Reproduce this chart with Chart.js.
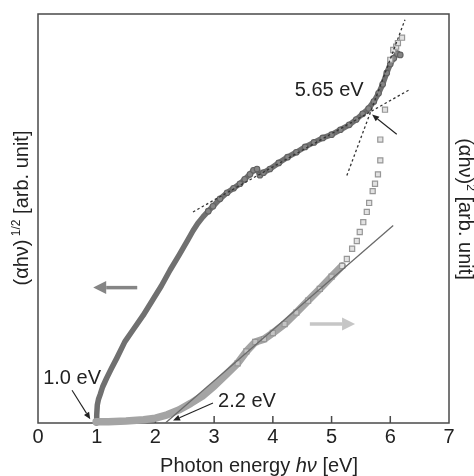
<!DOCTYPE html>
<html>
<head>
<meta charset="utf-8">
<script src="https://cdn.jsdelivr.net/npm/chart.js@4.4.1/dist/chart.umd.min.js"></script>
<style>
  html, body { margin: 0; padding: 0; background: #fff; }
  #wrap { width: 474px; height: 476px; position: relative; }
</style>
</head>
<body>
<div id="wrap"><canvas id="absChart"></canvas></div>
<script>
// (ahv)^1/2 curve, left axis (arbitrary units 0-100)
const darkX = [0.99, 1.00, 1.01, 1.03, 1.06, 1.10, 1.17, 1.25, 1.34, 1.48, 1.62, 1.79, 1.95, 2.10,
  2.25, 2.40, 2.55, 2.64, 2.72, 2.81, 2.90, 2.98, 3.10, 3.22, 3.33, 3.44, 3.52, 3.61, 3.67, 3.73,
  3.78, 3.84, 3.95, 4.10, 4.25, 4.40, 4.55, 4.70, 4.85, 5.00, 5.15, 5.30, 5.42, 5.53, 5.63, 5.72,
  5.80, 5.87, 5.94, 6.00, 6.06, 6.12, 6.17];
const darkY = [0.0, 2.0, 4.4, 5.8, 7.0, 8.8, 11.0, 13.3, 15.8, 19.9, 22.8, 26.3, 30.0, 33.5,
  37.4, 41.0, 44.7, 47.0, 48.8, 50.4, 51.8, 53.0, 54.8, 56.3, 57.4, 58.5, 59.6, 60.8, 61.8, 62.1,
  60.6, 61.2, 62.1, 63.6, 65.0, 66.2, 67.5, 68.6, 69.7, 70.5, 71.7, 72.9, 74.2, 75.6, 76.9, 78.6,
  80.6, 82.8, 85.6, 87.8, 89.2, 90.3, 90.0];

// (ahv)^2 curve, right axis (arbitrary units 0-100)
const lightX = [0.99, 1.20, 1.50, 1.80, 2.00, 2.20, 2.40, 2.60, 2.80, 3.00, 3.20, 3.40, 3.55, 3.70,
  3.85, 4.00, 4.20, 4.40, 4.60, 4.80, 5.00, 5.18, 5.26, 5.35, 5.43, 5.48, 5.54, 5.60, 5.64, 5.70,
  5.74, 5.79, 5.83, 5.83, 5.91, 6.00, 6.05, 6.10, 6.13, 6.20];
const lightY = [0.3, 0.3, 0.5, 0.8, 1.2, 2.0, 3.2, 4.8, 6.6, 9.0, 11.8, 14.6, 17.5, 19.8,
  20.5, 22.0, 24.2, 27.0, 29.9, 32.8, 35.8, 38.4, 40.1, 42.6, 44.5, 46.7, 49.1, 51.6, 53.8, 56.7,
  58.5, 60.8, 64.2, 69.3, 76.6, 88.8, 91.2, 92.0, 92.9, 94.2];

// extrapolation lines
const fitLowX = [2.64, 6.34];   // dotted, gentle slope
const fitLowY = [51.6, 81.6];
const fitHighX = [5.26, 6.25];  // dotted, steep
const fitHighY = [60.5, 98.6];
const fitGapX = [2.17, 6.05];   // solid, 2.2 eV onset
const fitGapY = [0.0, 48.3];

const xTicks = [0, 1, 2, 3, 4, 5, 6, 7];

const pts = (xs, ys) => xs.map((x, i) => ({ x, y: ys[i] }));

function arrow(ctx, x1, y1, x2, y2, color, width, headLen, headW) {
  const ang = Math.atan2(y2 - y1, x2 - x1);
  const bx = x2 - headLen * Math.cos(ang), by = y2 - headLen * Math.sin(ang);
  ctx.strokeStyle = color; ctx.fillStyle = color; ctx.lineWidth = width;
  ctx.beginPath(); ctx.moveTo(x1, y1); ctx.lineTo(bx, by); ctx.stroke();
  ctx.beginPath();
  ctx.moveTo(x2, y2);
  ctx.lineTo(bx + headW * Math.sin(ang), by - headW * Math.cos(ang));
  ctx.lineTo(bx - headW * Math.sin(ang), by + headW * Math.cos(ang));
  ctx.closePath(); ctx.fill();
}

// draw pieces of text one after another, centred on 0
function richText(ctx, parts) {
  let w = 0;
  parts.forEach(p => { ctx.font = p.font; p.w = ctx.measureText(p.t).width; w += p.w; });
  let cx = -w / 2;
  parts.forEach(p => { ctx.font = p.font; ctx.fillText(p.t, cx, p.dy || 0); cx += p.w; });
}

const FONT = '"Liberation Sans", Arial, sans-serif';

const extras = {
  id: 'extras',
  beforeDatasetsDraw(chart) {
    const { ctx, chartArea: a, scales: { x } } = chart;
    ctx.save();
    ctx.strokeStyle = '#4a4a4a';
    ctx.lineWidth = 1.5;
    ctx.strokeRect(a.left, a.top, a.right - a.left, a.bottom - a.top);
    ctx.beginPath();
    xTicks.slice(1, -1).forEach(t => {
      const px = x.getPixelForValue(t);
      ctx.moveTo(px, a.bottom); ctx.lineTo(px, a.bottom - 7);
    });
    ctx.stroke();
    ctx.restore();
  },
  afterDraw(chart) {
    const { ctx, scales: { x, y } } = chart;
    const px = v => x.getPixelForValue(v), py = v => y.getPixelForValue(v);
    ctx.save();

    // direction arrows
    arrow(ctx, px(1.69), py(33.1), px(0.94), py(33.1), '#858585', 3.5, 13, 6.5);
    arrow(ctx, px(4.63), py(24.2), px(5.40), py(24.2), '#c6c6c6', 3.5, 13, 6.5);

    // onset labels
    ctx.fillStyle = '#222';
    ctx.textAlign = 'center';
    ctx.textBaseline = 'middle';
    ctx.font = '20px ' + FONT;
    ctx.fillText('1.0 eV', px(0.58), py(10.9));
    ctx.fillText('2.2 eV', px(3.56), py(5.2));
    ctx.fillText('5.65 eV', px(4.96), py(81.3));
    arrow(ctx, px(0.58), py(8.0), px(0.89), py(0.9), '#222', 1.1, 7, 3);
    arrow(ctx, px(2.98), py(4.9), px(2.30), py(0.6), '#222', 1.1, 7, 3);
    arrow(ctx, px(6.11), py(70.6), px(5.69), py(75.4), '#222', 1.1, 7, 3);

    // axis titles
    ctx.fillStyle = '#222';
    ctx.textAlign = 'left';
    ctx.textBaseline = 'alphabetic';
    ctx.save();
    ctx.translate(259, 472);
    richText(ctx, [
      { t: 'Photon energy ', font: '20px ' + FONT },
      { t: 'hν', font: 'italic 20px ' + FONT },
      { t: ' [eV]', font: '20px ' + FONT }
    ]);
    ctx.restore();

    ctx.save();
    ctx.translate(22, 208);
    ctx.rotate(-Math.PI / 2);
    richText(ctx, [
      { t: '(αhν)', font: '20px ' + FONT, dy: 6 },
      { t: ' 1/2', font: '12px ' + FONT, dy: -2 },
      { t: ' [arb. unit]', font: '20px ' + FONT, dy: 6 }
    ]);
    ctx.restore();

    ctx.save();
    ctx.translate(465, 209);
    ctx.rotate(Math.PI / 2);
    richText(ctx, [
      { t: '(αhν)', font: '20px ' + FONT, dy: 6 },
      { t: '2', font: '12px ' + FONT, dy: -2 },
      { t: ' [arb. unit]', font: '20px ' + FONT, dy: 6 }
    ]);
    ctx.restore();

    ctx.restore();
  }
};

new Chart(document.getElementById('absChart'), {
  type: 'scatter',
  data: {
    datasets: [
      {
        label: 'gap fit', data: pts(fitGapX, fitGapY), yAxisID: 'y2', showLine: true,
        borderColor: '#6a6a6a', borderWidth: 1.3, pointRadius: 0
      },
      {
        label: 'low fit', data: pts(fitLowX, fitLowY), showLine: true,
        borderColor: '#333', borderWidth: 1.3, borderDash: [2.5, 2.5], pointRadius: 0
      },
      {
        label: 'high fit', data: pts(fitHighX, fitHighY), showLine: true,
        borderColor: '#333', borderWidth: 1.3, borderDash: [2.5, 2.5], pointRadius: 0
      },
      {
        label: '(αhν)^2', data: pts(lightX, lightY), yAxisID: 'y2', showLine: true, clip: false,
        borderColor: '#a4a4a4', borderWidth: 7.5, borderCapStyle: 'round', borderJoinStyle: 'round',
        segment: { borderColor: c => c.p0.parsed.x >= 5.18 ? 'rgba(0,0,0,0)' : undefined },
        pointStyle: 'rect',
        pointRadius: c => (c.raw && c.raw.x >= 3.4 ? 3.6 : 0),
        pointBackgroundColor: c => (c.raw && c.raw.x >= 5.18 ? '#e2e2e2' : '#c4c4c4'),
        pointBorderColor: '#979797', pointBorderWidth: 1.2
      },
      {
        label: '(αhν)^1/2', data: pts(darkX, darkY), showLine: true, clip: false,
        borderColor: '#707070', borderWidth: 5.5, borderCapStyle: 'round', borderJoinStyle: 'round',
        pointRadius: c => (c.raw && c.raw.x >= 2.9 ? 2.8 : 0),
        pointBackgroundColor: '#858585', pointBorderColor: '#626262', pointBorderWidth: 1.1
      }
    ]
  },
  options: {
    responsive: true,
    maintainAspectRatio: false,
    animation: false,
    layout: { padding: { left: 38, right: 25, top: 14, bottom: 25 } },
    plugins: { legend: { display: false }, tooltip: { enabled: false } },
    scales: {
      x: {
        type: 'linear', min: 0, max: 7,
        grid: { display: false, drawTicks: false, tickLength: 0 },
        border: { display: false },
        ticks: {
          stepSize: 1, padding: 2, color: '#222',
          font: { size: 20, family: FONT }
        }
      },
      y: { type: 'linear', min: 0, max: 100, display: false },
      y2: { type: 'linear', min: 0, max: 100, display: false, position: 'right' }
    }
  },
  plugins: [extras]
});
</script>
</body>
</html>
